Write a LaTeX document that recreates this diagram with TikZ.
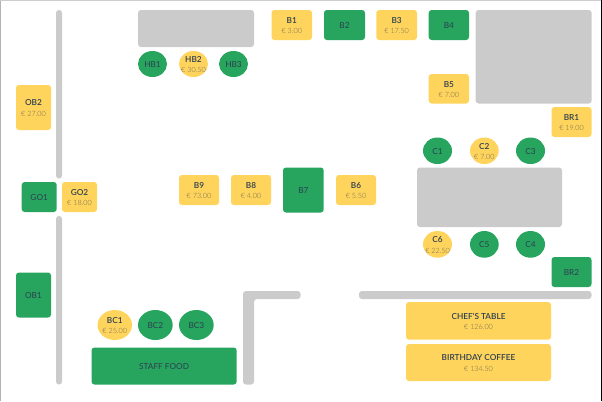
\documentclass[tikz,border=0pt]{standalone}
\usepackage{fontspec}
\setmainfont{Lato}
\newfontface\pricef{Lato Light}
\newfontface\labelf{Lato Semibold}
\definecolor{grn}{HTML}{27A55F}
\definecolor{ylw}{HTML}{FFD45C}
\definecolor{wallc}{HTML}{CBCBCB}
\definecolor{ink}{HTML}{2C3E50}
\definecolor{pricec}{HTML}{6F6A55}
\tikzset{
  x=0.75pt,y=-0.75pt,
  wall/.style={fill=wallc,draw=none,rounded corners=2.2pt},
  seat/.style={inner sep=0pt,outer sep=0pt,align=center,text=ink,font=\fontsize{6.2}{7.7}\selectfont},
}
\newcommand{\pricetxt}[1]{{\fontsize{5.4}{7}\pricef\color{pricec}€ #1}}
\newcommand{\free}[6]{% name,label,x1,y1,x2,y2
  \fill[grn,rounded corners=2.2pt] (#3,#4) rectangle (#5,#6);
  \node[seat] (#1) at ({(#3+#5)/2},{(#4+#6)/2+0.6}) {#2};
}
\newcommand{\paid}[7]{% name,label,price,x1,y1,x2,y2
  \fill[ylw,rounded corners=2.2pt] (#4,#5) rectangle (#6,#7);
  \node[seat] (#1) at ({(#4+#6)/2},{(#5+#7)/2+0.6}) {{\labelf #2}\\\pricetxt{#3}};
}
\newcommand{\freeO}[6]{%
  \fill[grn] ({(#3+#5)/2},{(#4+#6)/2}) ellipse ({(#5-#3)/2*0.75pt} and {(#6-#4)/2*0.75pt});
  \node[seat] (#1) at ({(#3+#5)/2},{(#4+#6)/2+0.6}) {#2};
}
\newcommand{\paidO}[7]{%
  \fill[ylw] ({(#4+#6)/2},{(#5+#7)/2}) ellipse ({(#6-#4)/2*0.75pt} and {(#7-#5)/2*0.75pt});
  \node[seat] (#1) at ({(#4+#6)/2},{(#5+#7)/2+0.6}) {{\labelf #2}\\\pricetxt{#3}};
}
\begin{document}
\begin{tikzpicture}
\useasboundingbox (0,0) rectangle (602,401);
\fill[white] (0,0) rectangle (602,401);
% page edges
\fill[black!30] (0,0) rectangle (1,401);
\fill[blue!10!black!20] (0,0) rectangle (602,1);
\fill[black] (601,0) rectangle (602,401);
% walls and counters
\fill[wall] (56,10) rectangle (62,178.5);
\fill[wall] (56,216) rectangle (62,384.5);
\fill[wall] (138,10) rectangle (254,47);
\fill[wall] (475.7,10) rectangle (591.7,103.5);
\fill[wall] (417,167.5) rectangle (562,227);
\fill[wall] (359,291) rectangle (591.5,299);
\fill[wall] (243,384.5) -- (243,291) -- (300.5,291) -- (300.5,299) -- (254,299) -- (254,384.5) -- cycle;
% top row
\freeO{HB1}{HB1}{138}{51}{167}{77}
\paidO{HB2}{HB2}{30.50}{179}{51}{208}{77}
\freeO{HB3}{HB3}{219}{51}{248}{77}
\paid{B1}{B1}{3.00}{271.5}{10}{312}{40}
\free{B2}{B2}{324}{10}{365}{40}
\paid{B3}{B3}{17.50}{376.3}{10}{417}{40}
\free{B4}{B4}{428.7}{10}{469}{40}
\paid{B5}{B5}{7.00}{428.7}{74}{469}{103.5}
\paid{BR1}{BR1}{19.00}{551.5}{107}{591.5}{137}
\freeO{C1}{C1}{423}{137.5}{452}{164}
\paidO{C2}{C2}{7.00}{470}{137.5}{498.7}{164}
\freeO{C3}{C3}{516}{137.5}{545}{164}
\paidO{C6}{C6}{22.50}{423}{231}{452}{257.7}
\freeO{C5}{C5}{470}{231}{498.7}{257.7}
\freeO{C4}{C4}{516}{231}{545}{257.7}
\free{BR2}{BR2}{551.5}{257}{591.5}{287}
% middle
\paid{B6}{B6}{5.50}{336}{175}{376}{205}
\free{B7}{B7}{283}{167.5}{323.7}{212.5}
\paid{B8}{B8}{4.00}{231}{175}{271}{205}
\paid{B9}{B9}{73.00}{179}{175}{219}{205}
\paid{OB2}{OB2}{27.00}{16}{85}{51}{130}
\free{GO1}{GO1}{21.7}{182}{56.7}{212}
\paid{GO2}{GO2}{18.00}{62}{182}{97}{212}
\free{OB1}{OB1}{16}{272.5}{51}{317.5}
% bottom
\paidO{BC1}{BC1}{25.00}{97.5}{310}{132}{340}
\freeO{BC2}{BC2}{138}{310}{172.7}{340}
\freeO{BC3}{BC3}{179}{310}{213.7}{340}
\free{SF}{STAFF FOOD}{91.5}{347.5}{236.7}{384.5}
\paid{CT}{CHEF'S TABLE}{126.00}{406}{302}{551}{339.7}
\paid{BD}{BIRTHDAY COFFEE}{134.50}{406}{344}{551}{381}
\end{tikzpicture}
\end{document}
